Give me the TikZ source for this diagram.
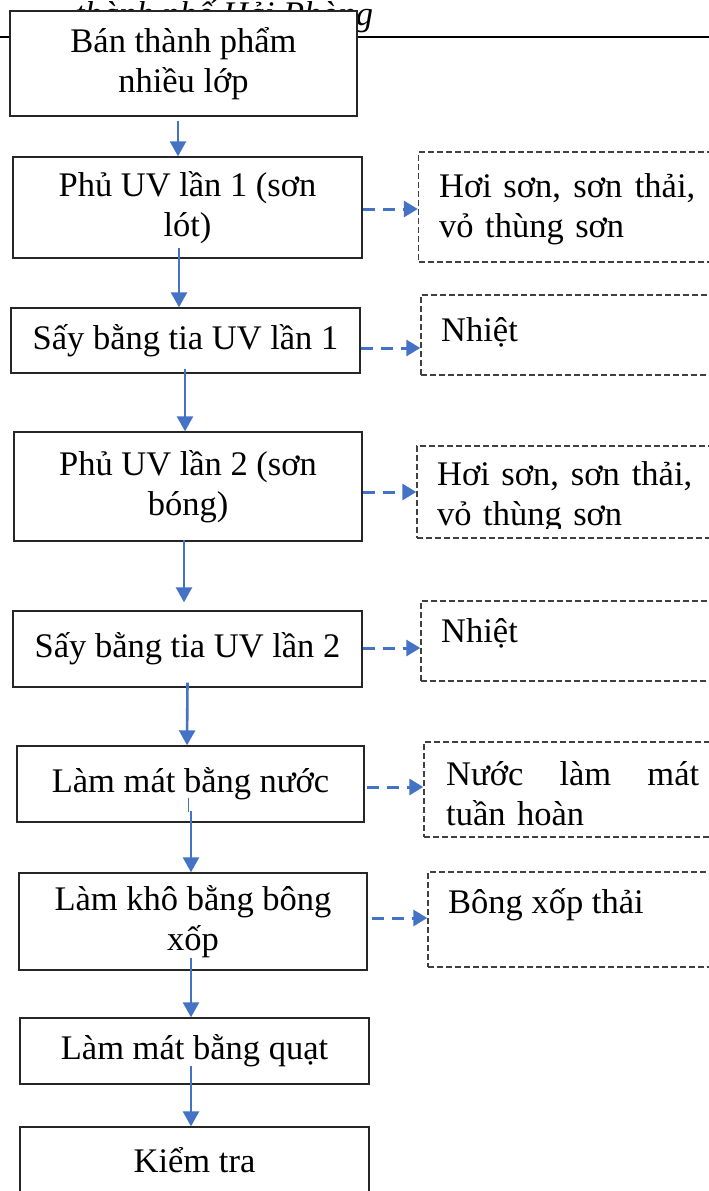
\documentclass[tikz,border=0pt]{standalone}
\usepackage{fontspec}
\setmainfont{Liberation Serif}
\usetikzlibrary{arrows.meta}
\definecolor{flowblue}{HTML}{4472C4}
\definecolor{dashgray}{HTML}{404040}

\begin{document}
\begin{tikzpicture}[x=1pt, y=-1pt,
        every node/.style={font=\fontsize{34.5}{40}\selectfont},
        stepbox/.style={draw=black!85, line width=1.4pt, fill=white, align=center, inner sep=0pt},
        wastebox/.style={draw=dashgray, line width=1.4pt, dash pattern=on 6pt off 3pt},
        wastetext/.style={anchor=west, align=left, inner sep=0pt},
        flow/.style={draw=flowblue, line width=2.6pt, -{Triangle[width=16pt,length=15pt]}},
        flowout/.style={draw=flowblue, line width=3pt, dash pattern=on 12pt off 8pt, -{Triangle[width=16pt,length=14pt]}}]
        \useasboundingbox[fill=white] (0,0) rectangle (709,1191);

        % page header, half hidden by the first box
        \node[font=\fontsize{34.5}{40}\selectfont\itshape, anchor=base west, inner sep=0pt] (head) at (75,25) {thành phố Hải Phòng};
        \draw[line width=1.7pt] (0,37) -- (709,37);

        % main line
        \node[stepbox, minimum width=347pt, minimum height=105pt] (ban) at (183.5,63.5) {Bán thành phẩm\\nhiều lớp};
        \node[stepbox, minimum width=349pt, minimum height=101pt] (phu1) at (187.5,207.5) {Phủ UV lần 1 (sơn\\lót)};
        \node[stepbox, minimum width=349pt, minimum height=65pt] (say1) at (185.5,340.5) {Sấy bằng tia UV lần 1};
        \node[stepbox, minimum width=348pt, minimum height=109pt] (phu2) at (188,486.5) {Phủ UV lần 2 (sơn\\bóng)};
        \node[stepbox, minimum width=349pt, minimum height=76pt] (say2) at (187.5,649) {Sấy bằng tia UV lần 2};
        \node[stepbox, minimum width=347pt, minimum height=76pt] (matnuoc) at (190.5,784) {Làm mát bằng nước};
        \node[stepbox, minimum width=348pt, minimum height=97pt] (khobong) at (193,921.5) {Làm khô bằng bông\\xốp};
        \node[stepbox, minimum width=349pt, minimum height=66pt] (matquat) at (194.5,1051) {Làm mát bằng quạt};
        \node[stepbox, minimum width=349pt, minimum height=66pt] (kiemtra) at (194.5,1160) {Kiểm tra};

        % waste boxes
        \node[wastebox, minimum width=321.5pt, minimum height=110pt] (khi1) at (579.25,207) {};
        \node[wastebox, minimum width=319pt, minimum height=80pt] (nhiet1) at (580.5,335) {};
        \node[wastebox, minimum width=323pt, minimum height=92pt] (khi2) at (578.5,492) {};
        \node[wastebox, minimum width=319pt, minimum height=80pt] (nhiet2) at (580.5,641) {};
        \node[wastebox, minimum width=316pt, minimum height=95pt] (nuoc) at (582,789.5) {};
        \node[wastebox, minimum width=312pt, minimum height=95pt] (bong) at (584,919.5) {};

        \node[wastetext, text width=256pt] (khi1t) at (439,209) {Hơi sơn,\hfill sơn\hfill thải,\\vỏ thùng sơn};
        \node[wastetext] (nhiet1t) at (441,332) {Nhiệt};
        \begin{scope}
            \clip (khi2.north west) rectangle ([yshift=10pt]khi2.south east);
            \node[wastetext, text width=255pt] (khi2t) at (437,497.5) {Hơi sơn,\hfill sơn\hfill thải,\\vỏ thùng sơn};
        \end{scope}
        \node[wastetext] (nhiet2t) at (441,633) {Nhiệt};
        \node[wastetext, text width=253pt] (nuoct) at (446,794) {Nước\hfill làm\hfill mát\\tuần hoàn};
        \node[wastetext] (bongt) at (448,905) {Bông xốp thải};

        % flow arrows
        \draw[flow] ([xshift=-5.5pt,yshift=-4pt]ban.south) -- ([xshift=-9.5pt]phu1.north);
        \draw[flow] ([xshift=-8.5pt,yshift=11pt]phu1.south) -- ([xshift=-6.5pt]say1.north);
        \draw[flow] ([xshift=-0.5pt,yshift=5pt]say1.south) -- ([xshift=-3pt]phu2.north);
        \draw[flow] ([xshift=-4pt,yshift=2pt]phu2.south) -- ([xshift=-3.5pt,yshift=8pt]say2.north);
        \draw[flow] ([yshift=5pt]say2.south) -- ([xshift=-3.5pt]matnuoc.north);
        \draw[flowblue, line width=1pt] ([xshift=-2.5pt,yshift=25pt]matnuoc.south) -- ([xshift=-2.5pt,yshift=11pt]matnuoc.south);
        \draw[flow] ([xshift=0.5pt,yshift=12pt]matnuoc.south) -- ([xshift=-2pt]khobong.north);
        \draw[flow] ([xshift=-2pt,yshift=13pt]khobong.south) -- ([xshift=-3.5pt]matquat.north);
        \draw[flow] ([xshift=-3.5pt,yshift=19pt]matquat.south) -- ([xshift=-3.5pt]kiemtra.north);

        % waste arrows
        \draw[flowout] ([yshift=-1.5pt]phu1.east) -- ([yshift=-2pt]khi1.west);
        \draw[flowout] ([yshift=-7.5pt]say1.east) -- ([yshift=-13pt]nhiet1.west);
        \draw[flowout] ([yshift=-5.5pt]phu2.east) -- (khi2.west);
        \draw[flowout] ([yshift=1pt]say2.east) -- ([yshift=-7pt]nhiet2.west);
        \draw[flowout] ([xshift=2pt,yshift=-3pt]matnuoc.east) -- ([yshift=2.5pt]nuoc.west);
        \draw[flowout] ([xshift=4pt,yshift=3.5pt]khobong.east) -- ([yshift=1.5pt]bong.west);
\end{tikzpicture}
\end{document}
